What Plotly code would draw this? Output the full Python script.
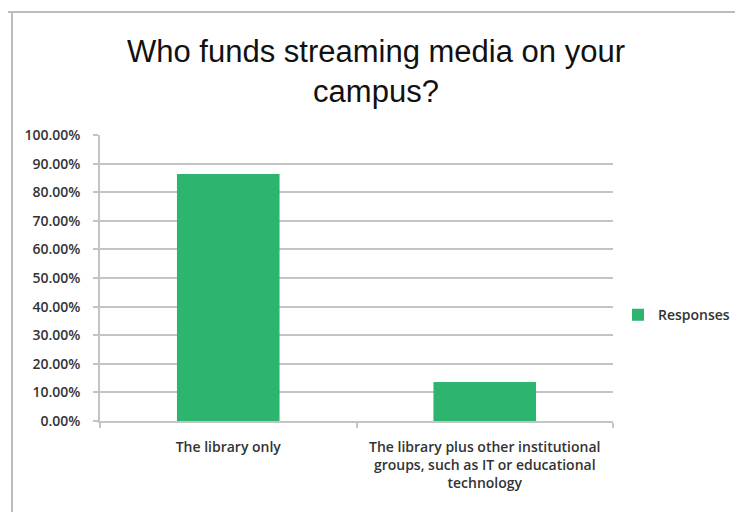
import plotly.graph_objects as go

# Survey answers and their share of responses
categories = [
    "The library only",
    "The library plus other institutional<br>groups, such as IT or educational<br>technology",
]
responses = [0.8636, 0.1364]
series_name = "Responses"
title_text = "Who funds streaming media on your<br>campus?"

W, H = 735, 512
L, R, T, B = 100, 122, 135, 91

bar_color = "#2DB46E"
grid_color = "#C4C4C4"
label_color = "#333333"

fig = go.Figure(
    go.Bar(
        x=categories,
        y=responses,
        name=series_name,
        marker=dict(color=bar_color, line=dict(width=0)),
        width=0.4,
        showlegend=True,
    )
)

# pixel -> paper helpers for the outer frame lines
pw, ph = W - L - R, H - T - B
def px_x(x):
    return (x - L) / pw
def px_y(y):
    return (H - B - y) / ph

frame = dict(color="#BDBDBD", width=2)
fig.add_shape(type="line", xref="paper", yref="paper",
              x0=px_x(8), x1=px_x(W), y0=px_y(12), y1=px_y(12), line=frame)
fig.add_shape(type="line", xref="paper", yref="paper",
              x0=px_x(12), x1=px_x(12), y0=px_y(12), y1=px_y(H), line=frame)

fig.update_layout(
    width=W,
    height=H,
    margin=dict(l=L, r=R, t=T, b=B, autoexpand=False),
    paper_bgcolor="white",
    plot_bgcolor="white",
    title=dict(
        text=title_text,
        x=376 / W,
        xanchor="center",
        xref="container",
        y=1 - 62 / H,
        yanchor="middle",
        yref="container",
        font=dict(family="Liberation Sans, Arial", size=31, color="#111111"),
    ),
    font=dict(family="Open Sans", size=13, color=label_color),
    bargap=0.6,
    legend=dict(
        x=(618 - L) / pw,
        xanchor="left",
        y=0.37,
        yanchor="middle",
        font=dict(family="Open Sans", size=14, color=label_color, weight=600),
        itemwidth=30,
        bgcolor="rgba(0,0,0,0)",
    ),
    xaxis=dict(
        type="category",
        showgrid=False,
        showline=True,
        linecolor=grid_color,
        linewidth=1.5,
        ticks="outside",
        tickson="boundaries",
        ticklen=5,
        tickcolor=grid_color,
        tickwidth=1.5,
        ticklabelstandoff=12,
        tickfont=dict(family="Open Sans", size=14, color=label_color, weight=600),
    ),
    yaxis=dict(
        range=[0, 1],
        dtick=0.1,
        tick0=0,
        tickformat=".2%",
        showgrid=True,
        gridcolor=grid_color,
        gridwidth=1.5,
        showline=True,
        linecolor=grid_color,
        linewidth=1.5,
        ticks="outside",
        ticklen=5,
        tickcolor=grid_color,
        tickwidth=1.5,
        zeroline=False,
        ticklabelstandoff=10,
        tickfont=dict(family="Open Sans", size=14, color=label_color, weight=600),
    ),
)

fig.write_html("out.html")
